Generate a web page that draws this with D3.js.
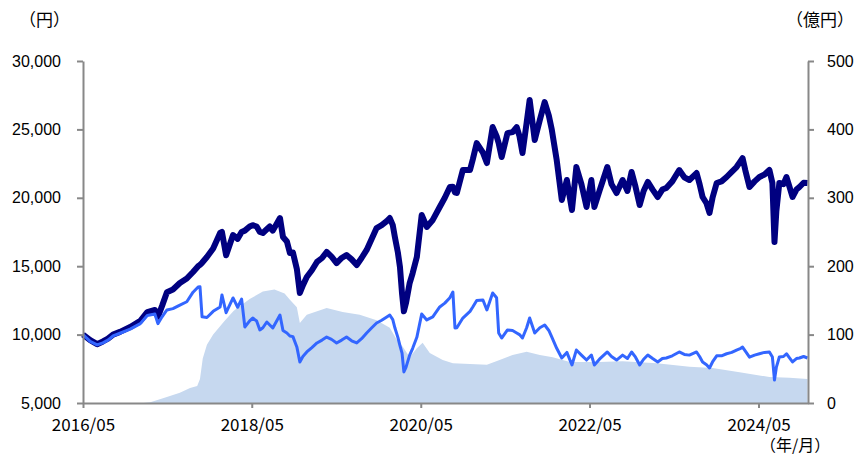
<!DOCTYPE html>
<html>
<head>
<meta charset="utf-8">
<script src="https://cdn.jsdelivr.net/npm/d3@7"></script>
<style>
  body { margin: 0; background: #fff; }
  svg { display: block; }
</style>
</head>
<body>
<div id="chart"></div>
<script>
"use strict";

// 日付（基準価額・分配金再投資基準価額 共通）
const lineDates = [
  "2016-05-01","2016-06-01","2016-07-01","2016-07-26","2016-08-17","2016-09-08","2016-10-08","2016-11-21",
  "2017-01-04","2017-02-03","2017-03-08","2017-03-21","2017-04-08","2017-04-29","2017-05-25","2017-06-24",
  "2017-07-24","2017-08-20","2017-09-11","2017-09-19","2017-09-28","2017-10-19","2017-11-15","2017-12-15",
  "2017-12-23","2018-01-10","2018-02-09","2018-03-01","2018-03-18","2018-04-01","2018-04-22","2018-05-05",
  "2018-05-22","2018-06-05","2018-06-18","2018-07-05","2018-07-18","2018-07-31","2018-08-31","2018-09-13",
  "2018-09-30","2018-10-13","2018-10-26","2018-11-12","2018-11-25","2018-12-08","2018-12-25","2019-01-16",
  "2019-02-07","2019-03-01","2019-03-21","2019-04-11","2019-05-03","2019-05-25","2019-06-15","2019-07-07",
  "2019-07-29","2019-08-19","2019-09-10","2019-10-02","2019-10-23","2019-11-14","2019-12-06","2019-12-19",
  "2020-01-01","2020-01-10","2020-01-23","2020-02-01","2020-02-10","2020-02-18","2020-02-27","2020-03-14",
  "2020-03-27","2020-04-14","2020-05-05","2020-05-27","2020-06-22","2020-07-22","2020-08-13","2020-09-04",
  "2020-09-17","2020-09-26","2020-10-04","2020-10-30","2020-11-30","2020-12-12","2020-12-29","2021-01-25",
  "2021-02-11","2021-03-08","2021-03-25","2021-04-03","2021-04-16","2021-05-11","2021-06-02","2021-06-20",
  "2021-07-02","2021-07-15","2021-08-02","2021-08-15","2021-09-06","2021-09-28","2021-10-19","2021-11-06",
  "2021-11-19","2021-12-10","2022-01-01","2022-01-23","2022-02-14","2022-03-05","2022-03-27","2022-04-18",
  "2022-05-09","2022-05-22","2022-06-13","2022-07-17","2022-08-04","2022-08-26","2022-09-21","2022-10-12",
  "2022-10-30","2022-11-16","2022-12-04","2022-12-21","2023-01-08","2023-01-29","2023-02-20","2023-03-12",
  "2023-03-29","2023-04-24","2023-05-24","2023-06-15","2023-07-07","2023-08-07","2023-08-20","2023-09-02",
  "2023-09-19","2023-10-02","2023-10-15","2023-11-02","2023-11-23","2023-12-15","2024-01-06","2024-01-27",
  "2024-02-14","2024-02-22","2024-03-05","2024-03-23","2024-04-14","2024-05-05","2024-05-27","2024-06-17",
  "2024-06-30","2024-07-09","2024-07-17","2024-07-30","2024-08-17","2024-08-30","2024-09-12","2024-09-25",
  "2024-10-12","2024-10-25","2024-11-12","2024-11-29"
];

// 基準価額（分配金再投資）（円）
const reinvested = [
  10000,9600,9300,9500,9700,10000,10200,10550,
  11000,11650,11800,11300,12100,13100,13300,13770,
  14100,14580,15000,15100,15250,15670,16300,17430,
  17500,15800,17280,17000,17500,17600,17900,18000,
  17900,17500,17430,17700,17900,17600,18520,17130,
  16800,15960,16000,14800,13040,13600,14210,14700,
  15310,15600,16040,15700,15230,15600,15820,15500,
  15090,15600,16190,17000,17790,18000,18300,18520,
  18000,17130,16000,14940,13000,11700,12300,13770,
  14500,15670,18740,17870,18380,19330,20000,20790,
  20800,20400,20350,22030,22030,22800,24000,23300,
  22540,25170,24500,24000,22980,24730,24800,25170,
  24500,23270,25500,27150,24220,25690,27000,26000,
  24960,22760,19840,21300,19110,22250,21000,19330,
  21300,19330,20500,22250,21000,20350,21300,20500,
  21890,20800,19470,20500,21160,20600,20060,20600,
  20720,21200,22030,21500,21300,21810,21000,20060,
  19600,18890,20000,21080,21200,21520,21900,22250,
  22700,22900,22000,20790,21200,21520,21700,22030,
  21080,16770,19000,21080,21000,21520,20800,20060,
  20600,20790,21100,21080
];

// 基準価額（円）
const nav = [
  10000,9500,9250,9400,9600,9900,10100,10400,
  10800,11400,11500,10800,11300,11800,11900,12160,
  12400,13100,13480,13500,11300,11250,11700,12020,
  12900,11600,12680,12000,12600,10560,11000,11210,
  11000,10340,10500,10920,10700,10480,11430,10300,
  10120,9900,9850,9100,8000,8400,8730,9050,
  9390,9600,9820,9650,9390,9600,9820,9550,
  9390,9700,10120,10500,10850,11050,11290,11430,
  11100,10500,9800,9200,8650,7270,7600,8500,
  9000,9800,11500,11070,11290,12020,12300,12700,
  13110,10480,10500,11210,11700,12020,12500,12530,
  11800,13040,12700,10120,9750,10340,10300,10120,
  10000,9750,10500,11210,10120,10500,10700,10300,
  9820,9000,8290,8700,7780,8870,8500,8140,
  8510,7780,8200,8730,8400,8140,8500,8250,
  8730,8350,7780,8200,8510,8250,8000,8250,
  8290,8450,8730,8550,8500,8730,8400,8000,
  7800,7560,8000,8450,8450,8600,8700,8870,
  9000,9090,8800,8350,8500,8600,8700,8730,
  8360,6680,7600,8360,8400,8600,8300,8000,
  8250,8290,8400,8290
];

// 純資産総額（億円）
const assetDates = [
  "2016-05-01","2017-01-17","2017-02-16","2017-04-12","2017-06-24","2017-08-07","2017-09-07","2017-09-19",
  "2017-10-01","2017-10-19","2017-11-15","2018-01-03","2018-02-12","2018-04-22","2018-06-18","2018-08-07",
  "2018-09-20","2018-10-13","2018-11-12","2018-11-25","2018-12-25","2019-03-21","2019-05-29","2019-08-11",
  "2019-10-23","2019-12-19","2020-01-19","2020-02-14","2020-03-14","2020-04-14","2020-05-09","2020-06-09",
  "2020-08-04","2020-09-17","2020-11-30","2021-02-11","2021-04-07","2021-06-02","2021-08-02","2021-09-28",
  "2021-11-23","2022-02-05","2022-04-18","2022-06-13","2022-09-21","2023-02-16","2023-07-07","2023-10-15",
  "2024-02-09","2024-06-17","2024-09-12","2024-11-29"
];
const assets = [
  0,0,1,7,15,22,25,35,
  65,85,100,120,135,152,163,166,
  160,151,140,117,129,139,133,129,
  121,110,92,82,67,80,88,73,
  63,58,57,56,63,70,75,70,
  67,60,60,60,61,58,53,51,
  45,38,37,35
];

const leftTicks = [5000, 10000, 15000, 20000, 25000, 30000];
const rightTicks = [0, 100, 200, 300, 400, 500];
const xTicks = ["2016-05-01", "2018-05-01", "2020-05-01", "2022-05-01", "2024-05-01"];

const width = 856;
const height = 456;
const margin = { top: 61, right: 48, bottom: 53, left: 83 };

const parse = d3.timeParse("%Y-%m-%d");
const lineData = lineDates.map((d, i) => ({ date: parse(d), re: reinvested[i], nav: nav[i] }));
const areaData = assetDates.map((d, i) => ({ date: parse(d), v: assets[i] }));

const svg = d3
  .select("#chart")
  .append("svg")
  .attr("width", width)
  .attr("height", height);

const x = d3
  .scaleTime()
  .domain([parse("2016-05-01"), parse("2024-12-01")])
  .range([margin.left, width - margin.right]);

const yL = d3.scaleLinear().domain([5000, 30000]).range([height - margin.bottom, margin.top]);
const yR = d3.scaleLinear().domain([0, 500]).range([height - margin.bottom, margin.top]);

// 純資産総額（面）
svg
  .append("path")
  .datum(areaData)
  .attr("fill", "#c6d8ef")
  .attr("d", d3.area().x((d) => x(d.date)).y0(yR(0)).y1((d) => yR(d.v)));

// 分配金再投資基準価額
svg
  .append("path")
  .datum(lineData)
  .attr("fill", "none")
  .attr("stroke", "#000080")
  .attr("stroke-width", 6)
  .attr("stroke-linejoin", "round")
  .attr("d", d3.line().x((d) => x(d.date)).y((d) => yL(d.re)));

// 基準価額
svg
  .append("path")
  .datum(lineData)
  .attr("fill", "none")
  .attr("stroke", "#3366ff")
  .attr("stroke-width", 3)
  .attr("stroke-linejoin", "round")
  .attr("d", d3.line().x((d) => x(d.date)).y((d) => yL(d.nav)));

function styleAxis(g) {
  g.selectAll(".domain").attr("stroke", "#888").attr("stroke-width", 2);
  g.selectAll(".tick line").attr("stroke", "#888").attr("stroke-width", 2);
  g.selectAll("text").attr("fill", "#000");
}

// 左軸
svg
  .append("g")
  .attr("transform", `translate(${margin.left},0)`)
  .call(d3.axisLeft(yL).tickValues(leftTicks).tickFormat(d3.format(",")).tickSize(6).tickSizeOuter(0).tickPadding(16))
  .call(styleAxis)
  .selectAll("text")
  .style("font-family", "'Liberation Sans', Arial, sans-serif")
  .style("font-size", "16px");

// 右軸
svg
  .append("g")
  .attr("transform", `translate(${width - margin.right},0)`)
  .call(d3.axisRight(yR).tickValues(rightTicks).tickSize(6).tickSizeOuter(0).tickPadding(13))
  .call(styleAxis)
  .selectAll("text")
  .style("font-family", "'Liberation Sans', Arial, sans-serif")
  .style("font-size", "16px");

// 下軸
svg
  .append("g")
  .attr("transform", `translate(0,${height - margin.bottom})`)
  .call(d3.axisBottom(x).tickValues(xTicks.map(parse)).tickFormat(d3.timeFormat("%Y/%m")).tickSize(5).tickSizeOuter(0).tickPadding(11))
  .call(styleAxis)
  .selectAll("text")
  .style("font-family", "'Noto Sans CJK JP', sans-serif")
  .style("font-size", "17px");

// 単位ラベル
const unitFont = "'Noto Sans CJK JP', sans-serif";
svg.append("text").attr("x", 19).attr("y", 26).text("（円）")
  .style("font-family", unitFont).style("font-size", "17px");
svg.append("text").attr("x", 854).attr("y", 26).attr("text-anchor", "end").text("（億円）")
  .style("font-family", unitFont).style("font-size", "17px");
svg.append("text").attr("x", 760).attr("y", 451).text("（年/月）")
  .style("font-family", unitFont).style("font-size", "16px");
</script>
</body>
</html>
